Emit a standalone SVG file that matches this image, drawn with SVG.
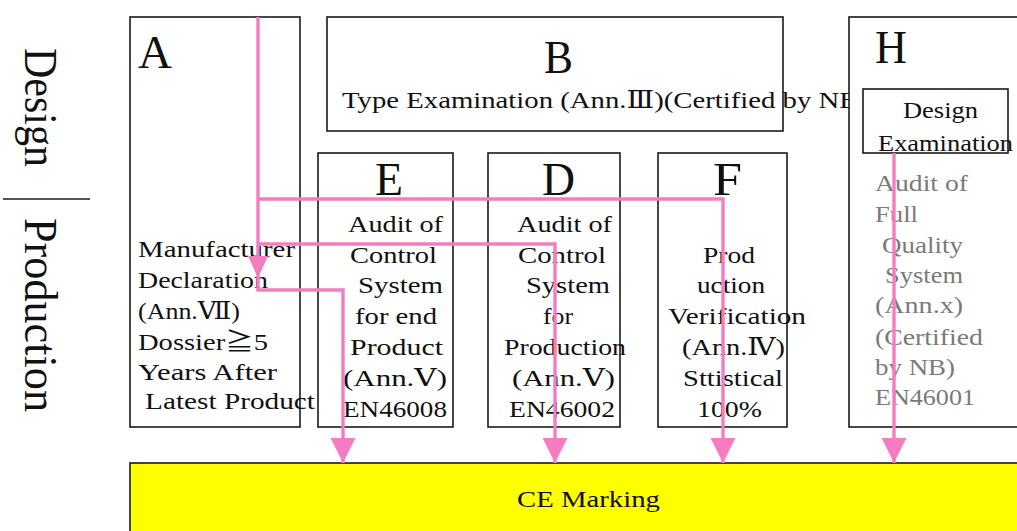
<svg xmlns="http://www.w3.org/2000/svg" width="1017" height="531" viewBox="0 0 1017 531">
  <style>
    text { font-family: "Liberation Serif", "DejaVu Serif", "Noto Sans CJK JP", serif; fill: #111; }
    .box { fill: #fff; stroke: #1a1a1a; stroke-width: 1.6; }
    .big { font-size: 46px; }
    .t { font-size: 23.5px; }
    .grey { fill: #7a7a7a; }
    .side { font-size: 47px; }
    .link { fill: none; stroke: #f47cc0; stroke-width: 3.4; }
    .head { fill: #f47cc0; }
  </style>
  <defs>
    <marker id="arrow" markerUnits="userSpaceOnUse" markerWidth="26" markerHeight="26" refX="25" refY="12.5" orient="auto" viewBox="0 0 26 26">
      <path d="M0,0 L25,12.5 L0,25 z" class="head"/>
    </marker>
  </defs>

  <rect width="1017" height="531" fill="#fff"/>

  <!-- stage labels on the left -->
  <g id="stage-labels">
    <text class="side" transform="translate(25,48) rotate(90)" textLength="119" lengthAdjust="spacingAndGlyphs">Design</text>
    <line x1="3" y1="199" x2="90" y2="199" stroke="#1a1a1a" stroke-width="1.6"/>
    <text class="side" transform="translate(25,218) rotate(90)" textLength="194" lengthAdjust="spacingAndGlyphs">Production</text>
  </g>

  <!-- module A -->
  <g id="node-a">
    <rect class="box" x="130" y="17" width="170" height="410"/>
    <text class="big" x="138" y="68" textLength="34" lengthAdjust="spacingAndGlyphs">A</text>
    <text class="t" x="138" y="257" textLength="157" lengthAdjust="spacingAndGlyphs">Manufacturer</text>
    <text class="t" x="138" y="288" textLength="130" lengthAdjust="spacingAndGlyphs">Declaration</text>
    <text class="t" x="138" y="319" textLength="102" lengthAdjust="spacingAndGlyphs">(Ann.Ⅶ)</text>
    <text class="t" x="138" y="350" textLength="130" lengthAdjust="spacingAndGlyphs">Dossier≧5</text>
    <text class="t" x="138" y="380" textLength="139" lengthAdjust="spacingAndGlyphs">Years After</text>
    <text class="t" x="145" y="409" textLength="170" lengthAdjust="spacingAndGlyphs">Latest Product</text>
  </g>

  <!-- module B -->
  <g id="node-b">
    <rect class="box" x="327" y="17" width="456" height="114"/>
    <text class="big" x="544" y="73" textLength="29" lengthAdjust="spacingAndGlyphs">B</text>
    <text class="t" x="342" y="108" textLength="526" lengthAdjust="spacingAndGlyphs">Type Examination (Ann.Ⅲ)(Certified by NB)</text>
  </g>

  <!-- module E -->
  <g id="node-e">
    <rect class="box" x="318" y="153" width="135" height="274"/>
    <text class="big" x="375" y="195" textLength="28" lengthAdjust="spacingAndGlyphs">E</text>
    <text class="t" x="348" y="232" textLength="95" lengthAdjust="spacingAndGlyphs">Audit of</text>
    <text class="t" x="350" y="263" textLength="87" lengthAdjust="spacingAndGlyphs">Control</text>
    <text class="t" x="358" y="293" textLength="85" lengthAdjust="spacingAndGlyphs">System</text>
    <text class="t" x="355" y="324" textLength="82" lengthAdjust="spacingAndGlyphs">for end</text>
    <text class="t" x="350" y="355" textLength="93" lengthAdjust="spacingAndGlyphs">Product</text>
    <text class="t" x="343" y="386" textLength="104" lengthAdjust="spacingAndGlyphs">(Ann.Ⅴ)</text>
    <text class="t" x="343" y="417" textLength="104" lengthAdjust="spacingAndGlyphs">EN46008</text>
  </g>

  <!-- module D -->
  <g id="node-d">
    <rect class="box" x="488" y="153" width="132" height="274"/>
    <text class="big" x="542" y="195" textLength="33" lengthAdjust="spacingAndGlyphs">D</text>
    <text class="t" x="517" y="232" textLength="95" lengthAdjust="spacingAndGlyphs">Audit of</text>
    <text class="t" x="518" y="263" textLength="88" lengthAdjust="spacingAndGlyphs">Control</text>
    <text class="t" x="526" y="293" textLength="84" lengthAdjust="spacingAndGlyphs">System</text>
    <text class="t" x="543" y="324" textLength="30" lengthAdjust="spacingAndGlyphs">for</text>
    <text class="t" x="504" y="355" textLength="122" lengthAdjust="spacingAndGlyphs">Production</text>
    <text class="t" x="512" y="386" textLength="103" lengthAdjust="spacingAndGlyphs">(Ann.Ⅴ)</text>
    <text class="t" x="509" y="417" textLength="106" lengthAdjust="spacingAndGlyphs">EN46002</text>
  </g>

  <!-- module F -->
  <g id="node-f">
    <rect class="box" x="658" y="153" width="129" height="274"/>
    <text class="big" x="713" y="195" textLength="29" lengthAdjust="spacingAndGlyphs">F</text>
    <text class="t" x="703" y="263" textLength="52" lengthAdjust="spacingAndGlyphs">Prod</text>
    <text class="t" x="697" y="293" textLength="68" lengthAdjust="spacingAndGlyphs">uction</text>
    <text class="t" x="668" y="324" textLength="138" lengthAdjust="spacingAndGlyphs">Verification</text>
    <text class="t" x="682" y="355" textLength="103" lengthAdjust="spacingAndGlyphs">(Ann.Ⅳ)</text>
    <text class="t" x="683" y="386" textLength="100" lengthAdjust="spacingAndGlyphs">Sttistical</text>
    <text class="t" x="697" y="417" textLength="65" lengthAdjust="spacingAndGlyphs">100%</text>
  </g>

  <!-- module H -->
  <g id="node-h">
    <rect class="box" x="849" y="17" width="200" height="410"/>
    <text class="big" x="875" y="63" textLength="32" lengthAdjust="spacingAndGlyphs">H</text>
    <rect class="box" x="863" y="89" width="145" height="64"/>
    <text class="t" x="903" y="118" textLength="75" lengthAdjust="spacingAndGlyphs">Design</text>
    <text class="t" x="878" y="151" textLength="135" lengthAdjust="spacingAndGlyphs">Examination</text>
    <text class="t grey" x="875" y="191" textLength="93" lengthAdjust="spacingAndGlyphs">Audit of</text>
    <text class="t grey" x="875" y="222" textLength="43" lengthAdjust="spacingAndGlyphs">Full</text>
    <text class="t grey" x="882" y="253" textLength="81" lengthAdjust="spacingAndGlyphs">Quality</text>
    <text class="t grey" x="885" y="283" textLength="78" lengthAdjust="spacingAndGlyphs">System</text>
    <text class="t grey" x="875" y="313" textLength="88" lengthAdjust="spacingAndGlyphs">(Ann.x)</text>
    <text class="t grey" x="875" y="345" textLength="108" lengthAdjust="spacingAndGlyphs">(Certified</text>
    <text class="t grey" x="875" y="375" textLength="80" lengthAdjust="spacingAndGlyphs">by NB)</text>
    <text class="t grey" x="875" y="405" textLength="100" lengthAdjust="spacingAndGlyphs">EN46001</text>
  </g>

  <!-- CE marking bar -->
  <g id="node-ce">
    <rect x="130" y="463" width="900" height="80" fill="#ffff00" stroke="#1a1a1a" stroke-width="1.6"/>
    <text class="t" x="517" y="507" textLength="143" lengthAdjust="spacingAndGlyphs">CE Marking</text>
  </g>

  <!-- routes to CE marking -->
  <g id="connectors">
    <path class="link" d="M258,17 V290 H343 V463" marker-end="url(#arrow)"/>
    <path class="link" d="M258,244 H555 V463" marker-end="url(#arrow)"/>
    <path class="link" d="M258,199 H723 V463" marker-end="url(#arrow)"/>
    <path class="link" d="M894,153 V463" marker-end="url(#arrow)"/>
    <polygon class="head" points="248,256 268,256 258,278"/>
  </g>
</svg>
